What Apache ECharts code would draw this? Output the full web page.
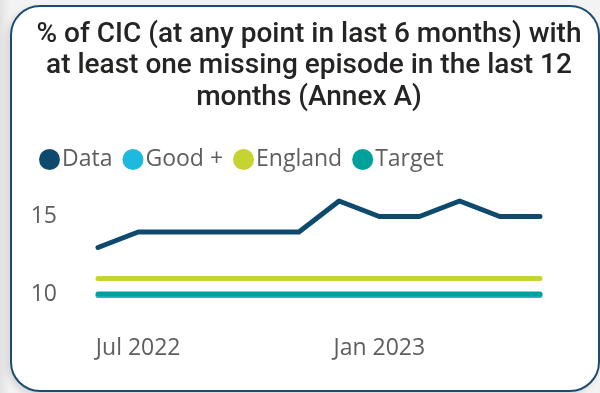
<!DOCTYPE html>
<html>
<head>
<meta charset="utf-8">
<script src="https://cdn.jsdelivr.net/npm/echarts@6/dist/echarts.min.js"></script>
<style>
  html, body { margin: 0; padding: 0; width: 600px; height: 393px; overflow: hidden;
    background: linear-gradient(90deg, #e2e2e2 0px, #f3f3f3 10px, #f3f3f3 100%); }
  #card { position: absolute; left: 10px; top: 5px; width: 586px; height: 383px;
    background: #fff; border: 2px solid #1b4d72; border-radius: 30px;
    box-shadow: -3px 3px 6px rgba(0,0,0,0.12); }
  #chart { position: absolute; left: 0; top: 0; width: 600px; height: 393px; }
</style>
</head>
<body>
<div id="card"></div>
<div id="chart"></div>
<script>
const titleText = '% of CIC (at any point in last 6 months) with\nat least one missing episode in the last 12\nmonths (Annex A)';
const months = ['Jun 2022','Jul 2022','Aug 2022','Sep 2022','Oct 2022','Nov 2022','Dec 2022','Jan 2023','Feb 2023','Mar 2023','Apr 2023','May 2023'];
const dataValues = [13, 14, 14, 14, 14, 14, 16, 15, 15, 16, 15, 15];
const goodPlusValues = [9.9, 9.9, 9.9, 9.9, 9.9, 9.9, 9.9, 9.9, 9.9, 9.9, 9.9, 9.9];
const englandValues = [11, 11, 11, 11, 11, 11, 11, 11, 11, 11, 11, 11];
const targetValues = [10, 10, 10, 10, 10, 10, 10, 10, 10, 10, 10, 10];
const yTickLabels = [10, 15];
const xTickLabels = ['Jul 2022', 'Jan 2023'];

const colors = { Data: '#0e4a6e', 'Good +': '#1eb9df', England: '#c6d431', Target: '#00a19a' };
const font = '"Open Sans", "Segoe UI", sans-serif';

const chart = echarts.init(document.getElementById('chart'), null, { renderer: 'canvas' });
function lineSeries(name, values, z) {
  return {
    name: name, type: 'line', data: values, symbol: 'none', z: z,
    lineStyle: { width: 5, color: colors[name], cap: 'round', join: 'round' },
    itemStyle: { color: colors[name] },
    emphasis: { disabled: true }
  };
}
chart.setOption({
  animation: false,
  title: {
    text: titleText, left: 309, top: 19, padding: 0, textAlign: 'center',
    textStyle: { fontFamily: 'Roboto, sans-serif', fontSize: 28, fontWeight: 500, lineHeight: 31.5, color: '#252423' }
  },
  legend: {
    left: 34, top: 143, icon: 'circle', itemWidth: 21, itemHeight: 21, itemGap: 10,
    data: ['Data', 'Good +', 'England', 'Target'],
    textStyle: { fontFamily: font, fontSize: 23, color: '#605e5c', padding: [0, 0, 0, -3] }
  },
  grid: { left: 98, right: 60, top: 185.5, height: 139.5, containLabel: false },
  xAxis: {
    type: 'category', data: months, boundaryGap: false,
    axisLine: { show: false }, axisTick: { show: false }, splitLine: { show: false },
    axisLabel: {
      interval: function (i, v) { return xTickLabels.indexOf(v) >= 0; },
      margin: 12, fontFamily: font, fontSize: 23, color: '#605e5c'
    }
  },
  yAxis: {
    type: 'value', min: 8, max: 17, interval: 1,
    axisLine: { show: false }, axisTick: { show: false }, splitLine: { show: false },
    axisLabel: {
      margin: 41, fontFamily: font, fontSize: 23, color: '#605e5c',
      formatter: function (v) { return yTickLabels.indexOf(v) >= 0 ? String(v) : ''; }
    }
  },
  series: [
    lineSeries('Good +', goodPlusValues, 1),
    lineSeries('Target', targetValues, 2),
    lineSeries('England', englandValues, 3),
    lineSeries('Data', dataValues, 4)
  ]
});
</script>
</body>
</html>
